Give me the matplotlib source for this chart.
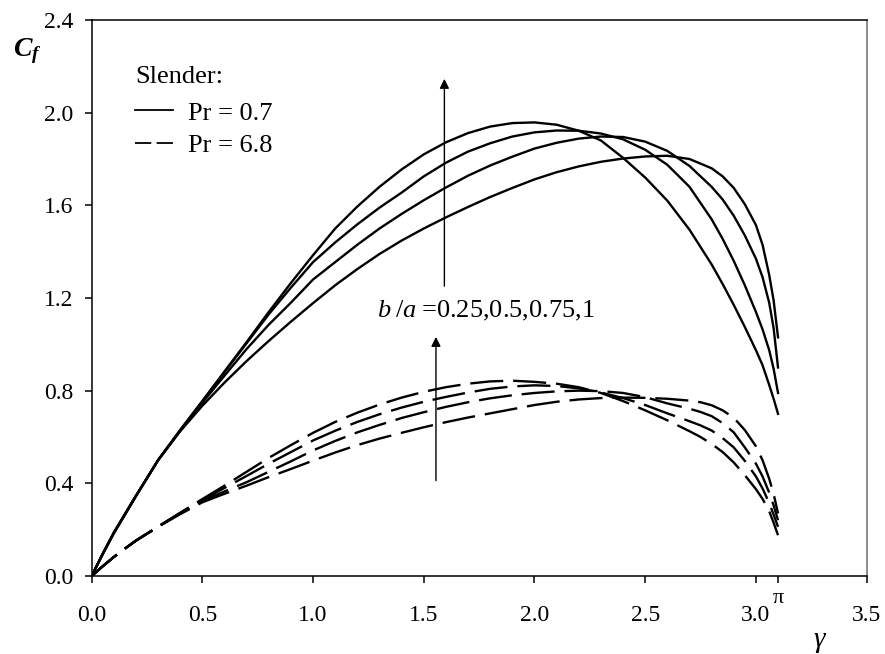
import numpy as np
import matplotlib
matplotlib.use("Agg")
import matplotlib.pyplot as plt
from matplotlib.lines import Line2D
from matplotlib.transforms import blended_transform_factory

plt.rcParams['font.family'] = ['Liberation Serif', 'DejaVu Serif']
plt.rcParams['mathtext.fontset'] = 'custom'
plt.rcParams['mathtext.rm'] = 'Liberation Serif'
plt.rcParams['mathtext.it'] = 'Liberation Serif:italic'
plt.rcParams['mathtext.bf'] = 'Liberation Serif:bold:italic'
plt.rcParams['mathtext.fallback'] = 'stix'

# Pr = 0.7 (solid), b/a = 1, 0.75, 0.5, 0.25
gamma_s = [0, 0.05, 0.1, 0.15, 0.2, 0.3, 0.4, 0.5, 0.6, 0.7, 0.8, 0.9, 1.0, 1.1, 1.2, 1.3,
           1.4, 1.5, 1.6, 1.7, 1.8, 1.9, 2.0, 2.1, 2.2, 2.3, 2.4, 2.5, 2.6, 2.7, 2.8,
           2.85, 2.9, 2.95, 3.0, 3.03, 3.06, 3.08, 3.1]
cf_s_100 = [0, 0.095, 0.185, 0.265, 0.345, 0.50, 0.63, 0.755, 0.883, 1.01, 1.14, 1.265, 1.385,
            1.50, 1.595, 1.68, 1.755, 1.82, 1.872, 1.912, 1.94, 1.955, 1.958, 1.948, 1.922,
            1.88, 1.805, 1.72, 1.62, 1.495, 1.345, 1.26, 1.17, 1.075, 0.975, 0.91, 0.825, 0.765, 0.70]
cf_s_075 = [0, 0.095, 0.185, 0.265, 0.345, 0.50, 0.63, 0.755, 0.88, 1.005, 1.13, 1.245, 1.355,
            1.44, 1.518, 1.59, 1.655, 1.725, 1.784, 1.832, 1.868, 1.897, 1.915, 1.923, 1.922,
            1.91, 1.885, 1.84, 1.775, 1.68, 1.54, 1.455, 1.36, 1.255, 1.14, 1.065, 0.975, 0.895, 0.79]
cf_s_050 = [0, 0.095, 0.185, 0.265, 0.345, 0.50, 0.628, 0.748, 0.865, 0.98, 1.085, 1.18, 1.28,
            1.355, 1.43, 1.50, 1.563, 1.622, 1.677, 1.728, 1.772, 1.81, 1.845, 1.87, 1.888,
            1.897, 1.895, 1.875, 1.835, 1.77, 1.68, 1.625, 1.555, 1.47, 1.37, 1.29, 1.18, 1.07, 0.90]
cf_s_025 = [0, 0.097, 0.188, 0.268, 0.347, 0.50, 0.625, 0.735, 0.835, 0.928, 1.015, 1.098, 1.178,
            1.255, 1.325, 1.39, 1.448, 1.50, 1.548, 1.593, 1.636, 1.675, 1.712, 1.743, 1.768,
            1.788, 1.802, 1.811, 1.814, 1.80, 1.76, 1.725, 1.675, 1.605, 1.515, 1.43, 1.30, 1.19, 1.03]

# Pr = 6.8 (dashed), b/a = 1, 0.75, 0.5, 0.25
gamma_d = [0, 0.05, 0.1, 0.15, 0.2, 0.3, 0.4, 0.5, 0.6, 0.7, 0.8, 0.9, 1.0, 1.1, 1.2, 1.3,
           1.4, 1.5, 1.6, 1.7, 1.8, 1.9, 2.0, 2.1, 2.2, 2.3, 2.4, 2.5, 2.6, 2.7, 2.75, 2.8,
           2.85, 2.9, 2.95, 3.0, 3.03, 3.06, 3.08, 3.1]
cf_d_100 = [0, 0.042, 0.082, 0.118, 0.153, 0.213, 0.273, 0.332, 0.39, 0.45, 0.51, 0.565, 0.618,
            0.665, 0.705, 0.74, 0.77, 0.795, 0.815, 0.83, 0.84, 0.843, 0.838, 0.83, 0.815, 0.79,
            0.755, 0.715, 0.672, 0.625, 0.60, 0.57, 0.535, 0.49, 0.435, 0.375, 0.333, 0.28, 0.23, 0.176]
cf_d_075 = [0, 0.042, 0.082, 0.118, 0.153, 0.213, 0.272, 0.33, 0.38, 0.432, 0.485, 0.535, 0.585,
            0.627, 0.665, 0.698, 0.727, 0.752, 0.773, 0.792, 0.808, 0.818, 0.823, 0.82, 0.81, 0.792,
            0.768, 0.738, 0.702, 0.668, 0.65, 0.628, 0.595, 0.555, 0.497, 0.43, 0.378, 0.315, 0.265, 0.212]
cf_d_050 = [0, 0.042, 0.082, 0.118, 0.153, 0.213, 0.27, 0.325, 0.365, 0.405, 0.45, 0.495, 0.542,
            0.583, 0.62, 0.652, 0.682, 0.707, 0.73, 0.75, 0.767, 0.78, 0.79, 0.797, 0.80, 0.798,
            0.79, 0.772, 0.745, 0.722, 0.708, 0.69, 0.66, 0.62, 0.555, 0.485, 0.43, 0.36, 0.305, 0.241]
cf_d_025 = [0, 0.042, 0.082, 0.118, 0.152, 0.212, 0.267, 0.318, 0.355, 0.39, 0.427, 0.462, 0.498,
            0.533, 0.565, 0.593, 0.618, 0.642, 0.664, 0.684, 0.702, 0.72, 0.738, 0.752, 0.762, 0.768,
            0.77, 0.769, 0.765, 0.757, 0.75, 0.737, 0.715, 0.683, 0.63, 0.56, 0.50, 0.42, 0.355, 0.27]

gamma_end = 3.1
x_ticks = [0.0, 0.5, 1.0, 1.5, 2.0, 2.5, 3.0, 3.5]
y_ticks = [0.0, 0.4, 0.8, 1.2, 1.6, 2.0, 2.4]

fig = plt.figure(figsize=(8.85, 6.54), dpi=100)
ax = fig.add_axes([0.1036, 0.1193, 0.8756, 0.8501])

for cf in [cf_s_100, cf_s_075, cf_s_050, cf_s_025]:
    ax.plot(gamma_s, cf, color='black', lw=1.7, solid_joinstyle='round')
for cf in [cf_d_100, cf_d_075, cf_d_050, cf_d_025]:
    ax.plot(gamma_d, cf, color='black', lw=1.7, dashes=(14, 4.2))

ax.set_xlim(0, 3.5)
ax.set_ylim(0, 2.4)
ax.set_xticks(x_ticks)
ax.set_xticklabels([f"{v:.1f}" for v in x_ticks])
ax.set_yticks(y_ticks)
ax.set_yticklabels([f"{v:.1f}" for v in y_ticks])
ax.set_xticks([gamma_end], minor=True)
ax.tick_params(which='both', direction='out', length=5, width=1.1, labelsize=17)
ax.tick_params(axis='x', which='major', pad=16)
ax.tick_params(axis='y', pad=8)
for s in ax.spines.values():
    s.set_linewidth(1.1)
ax.spines['right'].set_color('#6e6e6e')

trans = blended_transform_factory(ax.transData, ax.transAxes)
ax.text(gamma_end, -0.04, 'π', transform=trans, ha='center', va='center', fontsize=16)
ax.text(0.94, -0.119, r'$\gamma$', transform=ax.transAxes, ha='center', va='center', fontsize=21)
ax.text(-0.1016, 0.944, r'$\mathbf{C}_{\mathbf{f}}$', transform=ax.transAxes,
        ha='left', va='center', fontsize=20)

# arrows for b/a
ax.annotate('', xy=(1.593, 2.158), xytext=(1.593, 1.239),
            arrowprops=dict(arrowstyle='-|>', color='black', lw=1, mutation_scale=14))
ax.annotate('', xy=(1.555, 1.044), xytext=(1.555, 0.40),
            arrowprops=dict(arrowstyle='-|>', color='black', lw=1, mutation_scale=14))
ax.text(1.287, 1.144, r'$b\;/a\;$=0.25,0.5,0.75,1', ha='left', va='center', fontsize=19)

ax.text(0.0559, 0.898, 'Slender:', transform=ax.transAxes, ha='left', va='center', fontsize=19)
handles = [Line2D([], [], color='black', lw=1.3),
           Line2D([], [], color='black', lw=1.3, dashes=(9, 3))]
leg = ax.legend(handles, ['Pr = 0.7', 'Pr = 6.8'], loc='upper left',
                bbox_to_anchor=(0.0559, 0.854), frameon=False, fontsize=19,
                borderpad=0, borderaxespad=0, handlelength=1.45, handletextpad=0.57,
                labelspacing=0.33)

fig.savefig('out.png', dpi=100)
